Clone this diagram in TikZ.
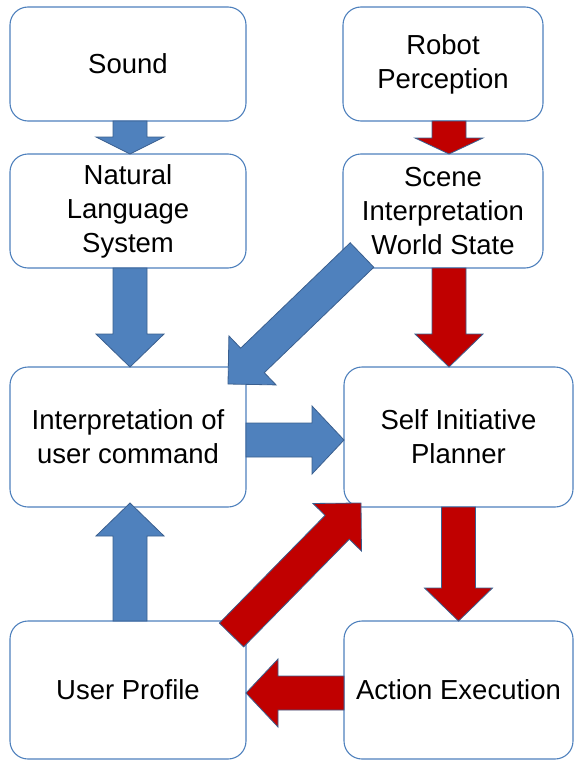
\documentclass[tikz,border=0pt]{standalone}
\usepackage{fontspec}
\setmainfont{Liberation Sans}
\usetikzlibrary{calc}
\definecolor{boxline}{HTML}{4F81BD}
\definecolor{arrblue}{HTML}{4F81BD}
\definecolor{arrred}{HTML}{C00000}
\definecolor{arrline}{HTML}{3A5F8F}
\tikzset{
  box/.style={draw=boxline, line width=1.1pt, fill=white, rounded corners=18pt,
    inner sep=0pt, outer sep=0pt, align=center,
    font=\fontsize{27.5}{34}\selectfont},
  bluearr/.style={fill=arrblue, draw=arrline, line width=0.8pt},
  redarr/.style={fill=arrred, draw=arrline, line width=0.8pt}
}
% #1 style, #2 tail, #3 tip, #4 head length
\newcommand\blockarrow[4]{%
  \coordinate (ba-s) at (#2);
  \coordinate (ba-t) at (#3);
  \coordinate (ba-h) at ($(ba-t)!#4!(ba-s)$);
  \draw[#1] ($(ba-s)!17pt!90:(ba-t)$) -- ($(ba-h)!17pt!90:(ba-t)$)
    -- ($(ba-h)!34pt!90:(ba-t)$) -- (ba-t)
    -- ($(ba-h)!34pt!-90:(ba-t)$) -- ($(ba-h)!17pt!-90:(ba-t)$)
    -- ($(ba-s)!17pt!-90:(ba-t)$) -- cycle;
}
\begin{document}
\begin{tikzpicture}[x=1pt,y=-1pt]
\useasboundingbox (0,0) rectangle (574,760);
\node[box, minimum width=236pt, minimum height=114pt] (sound) at (128,64) {Sound};
\node[box, minimum width=236pt, minimum height=114pt] (nl) at (128,211) {Natural\\Language\\System};
\node[box, minimum width=200pt, minimum height=114pt] (robot) at (443,64) {Robot\\Perception};
\node[box, minimum width=200pt, minimum height=114pt] (scene) at (443,211) {Scene\\Interpretation\\World State};
\node[box, minimum width=236pt, minimum height=140pt] (interp) at (128,437) {Interpretation of\\user command};
\node[box, minimum width=229pt, minimum height=140pt] (self) at (458.5,437) {Self Initiative\\Planner};
\node[box, minimum width=236pt, minimum height=138pt] (user) at (128,690) {User Profile};
\node[box, minimum width=229pt, minimum height=138pt] (action) at (458.5,690) {Action Execution};

\blockarrow{bluearr}{$(sound.south)+(2,0)$}{$(nl.north)+(2,0)$}{17pt}
\blockarrow{redarr}{$(robot.south)+(6,0)$}{$(scene.north)+(6,0)$}{16pt}
\blockarrow{bluearr}{$(nl.south)+(2,0)$}{$(interp.north)+(2,0)$}{33pt}
\blockarrow{redarr}{$(scene.south)+(6,0)$}{$(self.north)+(-9.5,0)$}{33pt}
\blockarrow{bluearr}{$(scene.south west)+(19,-13)$}{$(interp.north east)+(-18,17)$}{34pt}
\blockarrow{bluearr}{$(interp.east)+(0,3)$}{$(self.west)+(0,3)$}{32pt}
\blockarrow{redarr}{self.south}{action.north}{33pt}
\blockarrow{bluearr}{$(user.north)+(2,0)$}{$(interp.south)+(2,-4)$}{33pt}
\blockarrow{redarr}{$(action.west)+(0,3)$}{$(user.east)+(0,3)$}{32pt}
\blockarrow{redarr}{$(user.north east)+(-14.5,14)$}{$(self.south west)+(17,-4)$}{34pt}
\end{tikzpicture}
\end{document}
